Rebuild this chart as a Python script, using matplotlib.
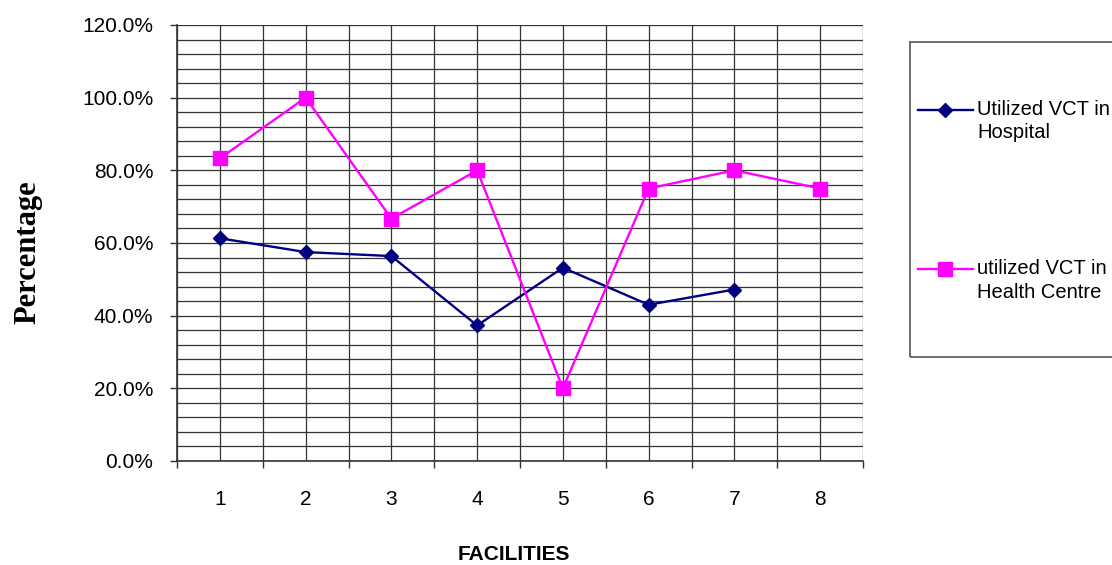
import matplotlib.pyplot as plt
import numpy as np
from matplotlib.lines import Line2D
from matplotlib.patches import Rectangle
from matplotlib.ticker import FixedLocator, FuncFormatter

# data (percent)
facilities = [1, 2, 3, 4, 5, 6, 7, 8]
hospital = [61.3, 57.5, 56.4, 37.3, 53.2, 43.0, 47.2]
health_centre = [83.3, 100.0, 66.7, 80.0, 20.0, 75.0, 80.0, 75.0]
y_ticks = [0, 20, 40, 60, 80, 100, 120]

plt.rcParams['font.family'] = ['Liberation Sans', 'DejaVu Sans']

W, H = 1112, 565
fig = plt.figure(figsize=(W / 100, H / 100), dpi=100)
ax = fig.add_axes([177 / W, 1 - 461 / H, (863 - 177) / W, (461 - 25) / H])

# grid: vertical every half category, horizontal every 4%
ax.set_xlim(0.5, 8.5)
ax.set_ylim(0, 120)
for xv in np.arange(0.5, 8.51, 0.5):
    ax.axvline(xv, color='#333333', lw=0.9, zorder=0)
for yv in np.arange(0, 120.1, 4):
    ax.axhline(yv, color='#333333', lw=0.9, zorder=0)

ax.plot(facilities[:len(hospital)], hospital, color='#000080', lw=1.7,
        marker='D', markersize=7, zorder=3)
ax.plot(facilities, health_centre, color='#FF00FF', lw=1.7,
        marker='s', markersize=10.5, zorder=3)

# x ticks at boundaries, labels at category centres
ax.xaxis.set_major_locator(FixedLocator(np.arange(0.5, 8.51, 1)))
ax.xaxis.set_major_formatter(FuncFormatter(lambda v, p: ''))
ax.xaxis.set_minor_locator(FixedLocator(facilities))
ax.xaxis.set_minor_formatter(FuncFormatter(lambda v, p: '%d' % v))
ax.tick_params(axis='x', which='major', length=5, width=1, color='#333333', direction='out')
ax.tick_params(axis='x', which='minor', length=0, pad=21, labelsize=15)

ax.set_yticks(y_ticks)
ax.yaxis.set_major_formatter(FuncFormatter(lambda v, p: '%.1f%%' % v))
ax.tick_params(axis='y', length=5, width=1, color='#333333', labelsize=15, pad=12)

for side in ['top', 'right']:
    ax.spines[side].set_visible(False)
for side in ['left', 'bottom']:
    ax.spines[side].set_color('#333333')
    ax.spines[side].set_linewidth(1.2)

fig.text(514 / W, 1 - 555 / H, 'FACILITIES', fontsize=15, fontweight='bold',
         ha='center', va='center')
fig.text(28 / W, 1 - 252 / H, 'Percentage', fontsize=22, fontweight='bold',
         family=['Liberation Serif', 'DejaVu Serif'], rotation=90,
         ha='center', va='center')

# legend box drawn by hand, it runs off the right edge
fig.patches.append(Rectangle((910 / W, 1 - 357 / H), 0.3, (357 - 42) / H,
                             transform=fig.transFigure, fill=False,
                             edgecolor='#555555', lw=1.2))
entries = [('#000080', 'D', 7, 'Utilized VCT in\nHospital', 110),
           ('#FF00FF', 's', 10.5, 'utilized VCT in\nHealth Centre', 269)]
for col, mk, ms, txt, ypx in entries:
    yf = 1 - ypx / H
    fig.lines.append(Line2D([918 / W, 973 / W], [yf, yf], color=col, lw=1.7,
                            transform=fig.transFigure))
    fig.lines.append(Line2D([945 / W], [yf], color=col, marker=mk, markersize=ms,
                            transform=fig.transFigure))
    fig.text(977 / W, yf + 10 / H, txt, fontsize=14.5, va='top', ha='left',
             linespacing=1.3)

fig.savefig('out.png', dpi=100)
